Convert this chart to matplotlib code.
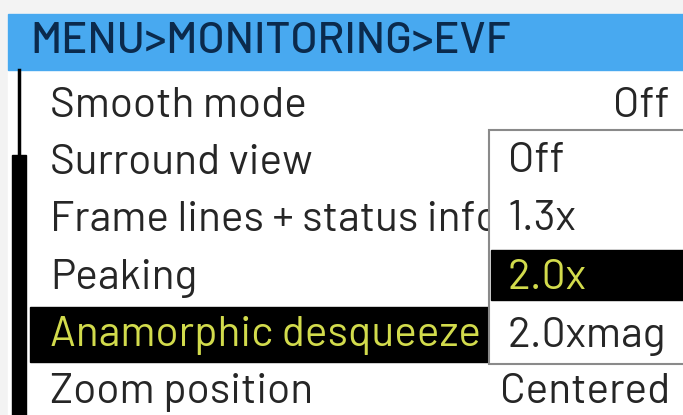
import matplotlib.pyplot as plt
from matplotlib.patches import Rectangle

plt.rcParams['font.family'] = ['Barlow', 'DejaVu Sans']

# menu content
title = "MENU>MONITORING>EVF"
items = ["Smooth mode", "Surround view", "Frame lines + status info",
         "Peaking", "Anamorphic desqueeze", "Zoom position"]
values = ["Off", "", "", "", "", "Centered"]
selected = 4
options = ["Off", "1.3x", "2.0x", "2.0xmag"]
option_sel = 2

W, H = 683, 415
fig = plt.figure(figsize=(W / 100, H / 100), dpi=100)
ax = fig.add_axes([0, 0, 1, 1])
ax.set_xlim(0, W)
ax.set_ylim(H, 0)
ax.axis("off")


def fit_size(s, width, weight="normal"):
    # font size that makes string s about `width` pixels wide
    t = ax.text(0, 0, s, fontsize=10, weight=weight)
    w = t.get_window_extent(fig.canvas.get_renderer()).width
    t.remove()
    return 10 * width / w


fs = fit_size("Smooth mode", 257)
fs_title = fit_size(title, 478, "medium")

fig.patch.set_facecolor("#f3f3f3")
ax.add_patch(Rectangle((8, 14), W, H, color="white", zorder=0))

# title bar
ax.add_patch(Rectangle((8, 14), W, 56, color="#48a9f0", zorder=1))
ax.text(30, 53, title, fontsize=fs_title, color="#0b2a4c", weight="medium",
        va="baseline", ha="left", zorder=2)

# scroll bar on the left
ax.plot([19, 19], [70, 155], color="black", lw=2.5, zorder=2)
ax.add_patch(Rectangle((12, 155), 14, H, color="black", zorder=2))

row_h = 57.2
base0 = 117
txt = "#262626"
hil = "#d2db4c"
for i, (lab, val) in enumerate(zip(items, values)):
    y = base0 + i * row_h
    col = txt
    if i == selected:
        ax.add_patch(Rectangle((30, y - 39), 470, 55, color="black", zorder=1))
        col = hil
    ax.text(50, y, lab, fontsize=fs, color=col,
            va="baseline", ha="left", zorder=2)
    if val:
        ax.text(670, y, val, fontsize=fs, color=txt,
                va="baseline", ha="right", zorder=2)

# dropdown list
dd_top, dd_bot, dd_left = 130, 364, 489
ax.add_patch(Rectangle((dd_left, dd_top), W, dd_bot - dd_top, facecolor="white",
                       edgecolor="#8a8a8a", lw=1.5, zorder=5))
opt_h = 58.3
for j, opt in enumerate(options):
    y = 172 + j * opt_h
    col = txt
    if j == option_sel:
        ax.add_patch(Rectangle((dd_left + 2, y - 39), W, 50, color="black", zorder=6))
        col = hil
    ax.text(dd_left + 19, y, opt, fontsize=fs, color=col,
            va="baseline", ha="left", zorder=7)

fig.savefig("out.png", dpi=100, facecolor=fig.get_facecolor())
